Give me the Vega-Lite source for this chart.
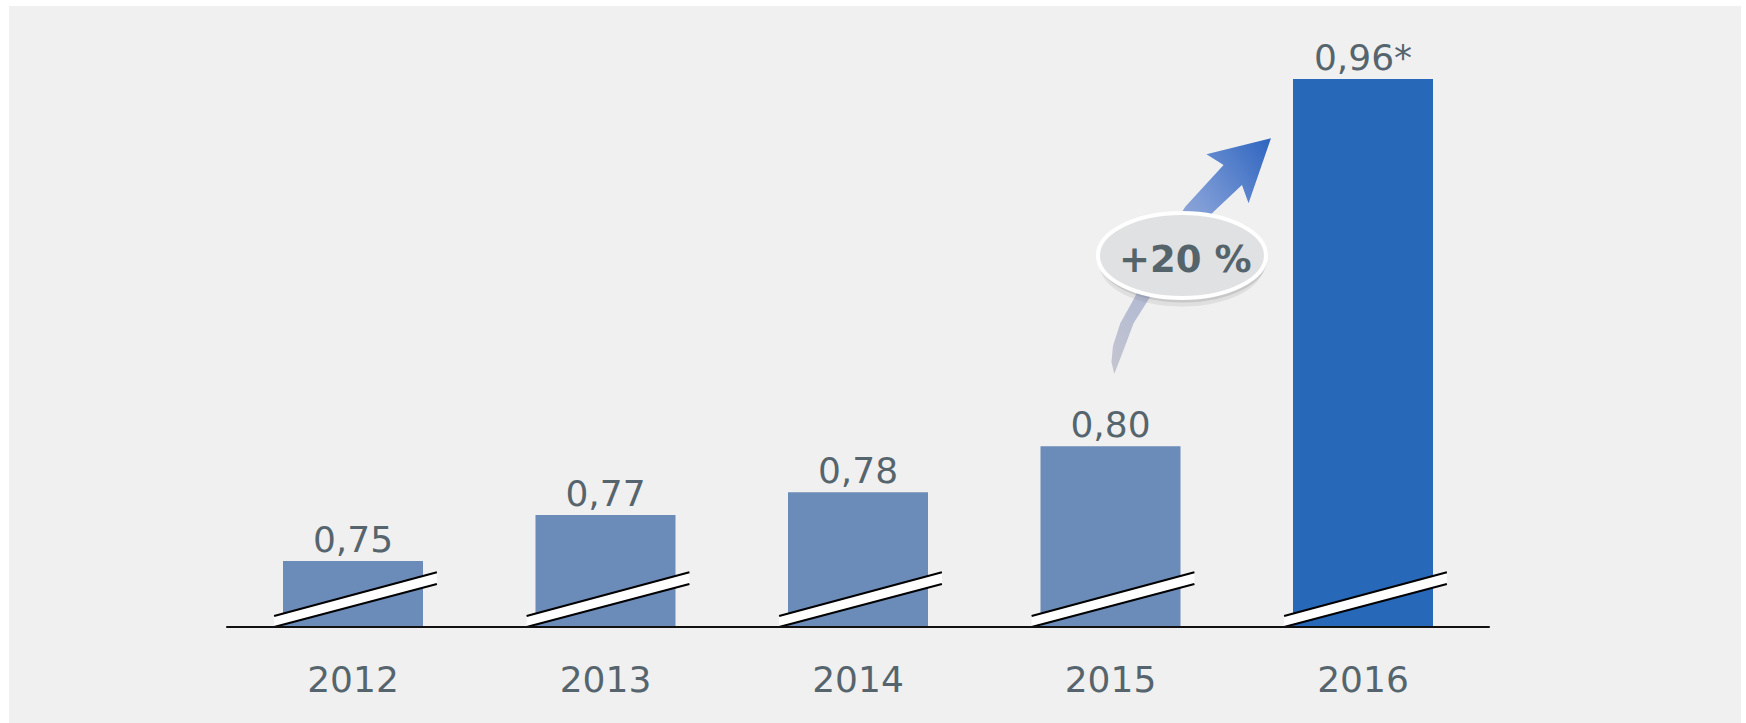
{
  "$schema": "https://vega.github.io/schema/vega-lite/v6.json",
  "width": 1732,
  "height": 717,
  "autosize": {"type": "none"},
  "padding": {"left": 9, "top": 6, "right": 5, "bottom": 0},
  "background": "#ffffff",
  "config": {"view": {"fill": "#f0f0f0", "stroke": null}, "scale": {"continuousPadding": 0}},
  "datasets": {
    "bars": [
      {"year": 2012, "value": 0.75, "label": "0,75"},
      {"year": 2013, "value": 0.77, "label": "0,77"},
      {"year": 2014, "value": 0.78, "label": "0,78"},
      {"year": 2015, "value": 0.80, "label": "0,80"},
      {"year": 2016, "value": 0.96, "label": "0,96*"}
    ],
    "note": [{"from": 2015, "to": 2016, "change": "+20 %"}]
  },
  "layer": [
    {
      "data": {"name": "bars"},
      "mark": {"type": "bar", "width": 140},
      "encoding": {
        "x": {"field": "year", "type": "quantitative", "scale": {"domain": [2010.63762, 2017.49703], "nice": false, "zero": false, "padding": 0}, "axis": null},
        "y": {"field": "value", "type": "quantitative", "scale": {"domain": [0.67941, 0.99183], "nice": false, "zero": false, "padding": 0}, "axis": null},
        "y2": {"datum": 0.72124},
        "color": {"condition": {"test": "datum.year === 2016", "value": "#2768b9"}, "value": "#6b8bb8"}
      }
    },
    {
      "data": {"name": "bars"},
      "mark": {"type": "point", "shape": "M -0.789 0 L 0.839 -0.43 L 0.839 -0.547 L -0.789 -0.11 Z", "size": 40000, "filled": true, "fill": "#ffffff", "strokeWidth": 0, "opacity": 1},
      "encoding": {
        "x": {"field": "year", "type": "quantitative"},
        "y": {"datum": 0.72124}
      }
    },
    {
      "data": {"name": "bars"},
      "mark": {"type": "point", "shape": "M -0.789 0 L 0.839 -0.43 M -0.789 -0.11 L 0.839 -0.547", "size": 40000, "filled": false, "stroke": "#000000", "strokeWidth": 2, "opacity": 1},
      "encoding": {
        "x": {"field": "year", "type": "quantitative"},
        "y": {"datum": 0.72124}
      }
    },
    {
      "data": {"name": "bars"},
      "mark": {"type": "rule", "color": "#111111", "strokeWidth": 2},
      "encoding": {"x": {"datum": 2011.5}, "x2": {"datum": 2016.5}, "y": {"datum": 0.72124}}
    },
    {
      "data": {"name": "bars"},
      "mark": {"type": "text", "font": "DejaVu Sans", "fontSize": 36, "color": "#56656d", "baseline": "alphabetic", "align": "center", "dy": -9},
      "encoding": {
        "x": {"field": "year", "type": "quantitative"},
        "y": {"field": "value", "type": "quantitative"},
        "text": {"field": "label", "type": "nominal"}
      }
    },
    {
      "data": {"name": "bars"},
      "mark": {"type": "text", "font": "DejaVu Sans", "fontSize": 36, "color": "#56656d", "baseline": "alphabetic", "align": "center", "dy": 65},
      "encoding": {
        "x": {"field": "year", "type": "quantitative"},
        "y": {"datum": 0.72124},
        "text": {"field": "year", "type": "nominal"}
      }
    },
    {
      "data": {"name": "note"},
      "mark": {"type": "point", "size": 40000, "filled": true, "strokeWidth": 0, "opacity": 1,
        "shape": "M 0.89 -1.157 L 0.666 -0.507 L 0.6 -0.69 L 0.316 -0.423 L 0.016 -0.107 L -0.317 0.427 L -0.484 0.693 L -0.584 0.96 L -0.677 1.2 L -0.705 1.08 L -0.69 0.92 L -0.617 0.693 L -0.487 0.46 L -0.217 -0.073 L 0.033 -0.473 L 0.416 -0.89 L 0.245 -0.997 Z",
        "fill": {"gradient": "linear", "x1": 0, "y1": 1, "x2": 1, "y2": 0, "stops": [{"offset": 0, "color": "#c4c5cf"}, {"offset": 0.4, "color": "#a9b5d6"}, {"offset": 0.65, "color": "#7d9bd6"}, {"offset": 1, "color": "#2d64bf"}]}},
      "encoding": {"x": {"datum": 2015.283}, "y": {"datum": 0.88377}}
    },
    {
      "data": {"name": "note"},
      "mark": {"type": "point", "size": 27000, "filled": true, "fill": "#6f6f6f", "strokeWidth": 0, "opacity": 0.12, "xOffset": 0, "yOffset": 11,
        "shape": "M -1 0 A 1 0.506 0 1 0 1 0 A 1 0.506 0 1 0 -1 0 Z"},
      "encoding": {"x": {"datum": 2015.283}, "y": {"datum": 0.88377}}
    },
    {
      "data": {"name": "note"},
      "mark": {"type": "point", "size": 28224, "filled": true, "fill": "#6f6f6f", "strokeWidth": 0, "opacity": 0.2, "xOffset": 1, "yOffset": 6,
        "shape": "M -1 0 A 1 0.506 0 1 0 1 0 A 1 0.506 0 1 0 -1 0 Z"},
      "encoding": {"x": {"datum": 2015.283}, "y": {"datum": 0.88377}}
    },
    {
      "data": {"name": "note"},
      "mark": {"type": "point", "size": 28224, "filled": true, "fill": "#e0e1e3", "stroke": "#ffffff", "strokeWidth": 4, "opacity": 1, "yOffset": 1.5,
        "shape": "M -1 0 A 1 0.506 0 1 0 1 0 A 1 0.506 0 1 0 -1 0 Z"},
      "encoding": {"x": {"datum": 2015.283}, "y": {"datum": 0.88377}}
    },
    {
      "data": {"name": "note"},
      "mark": {"type": "text", "font": "DejaVu Sans", "fontWeight": "bold", "fontSize": 37, "color": "#55646b", "baseline": "alphabetic", "align": "center", "dx": 3.3, "dy": 17.7},
      "encoding": {"x": {"datum": 2015.283}, "y": {"datum": 0.88377}, "text": {"field": "change", "type": "nominal"}}
    }
  ]
}
